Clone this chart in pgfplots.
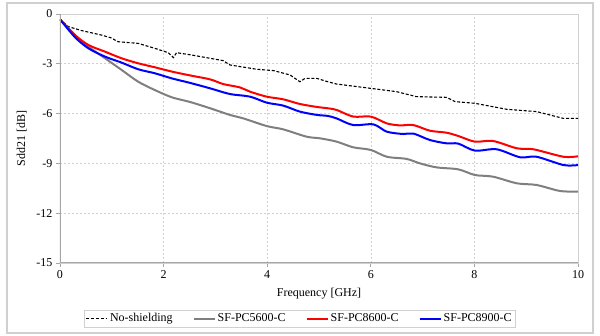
\documentclass[border=0pt]{standalone}
\usepackage{pgfplots}
\pgfplotsset{compat=1.18}
\usepackage{fontspec}
\setmainfont{Liberation Serif}
\definecolor{gridc}{HTML}{D0D0D0}
\definecolor{axc}{HTML}{A6A6A6}
\definecolor{framec}{HTML}{D0D0D0}
\definecolor{grayline}{HTML}{7F7F7F}
\begin{document}
\begin{tikzpicture}[x=1pt,y=1pt]
\path[use as bounding box] (0,0) rectangle (600,336);
\draw[framec, line width=1.2pt] (7,3) rectangle (593,333);
\begin{axis}[
  at={(60pt,73pt)}, anchor=south west,
  scale only axis, width=518pt, height=249pt,
  xmin=0, xmax=10, ymin=-15, ymax=0,
  xtick={0,2,...,10}, ytick={-15,-12,...,0},
  font=\fontsize{12}{14}\selectfont,
  /pgf/number format/assume math mode=true,
  grid=major,
  major grid style={gridc, dashed, dash pattern=on 2pt off 2pt, line width=0.6pt},
  axis line style={gridc, line width=0.8pt},
  tick align=outside, major tick length=4pt,
  xtick pos=bottom, ytick pos=left,
  tick style={axc, line width=0.8pt},
  xlabel={Frequency [GHz]}, ylabel={Sdd21 [dB]},
  xlabel style={yshift=-3pt},
  ylabel style={yshift=3pt},
  legend columns=4,
  legend style={at={(0.463,-0.223)}, anchor=center, draw=gridc, line width=0.8pt,
    font=\fontsize{12}{14}\selectfont, inner sep=1.5pt,
    /tikz/every even column/.append style={column sep=18pt}},
  legend cell align=left,
  legend image code/.code={\draw[#1] (0pt,0pt) -- (21pt,0pt);},
]
\addplot[black, line width=1.1pt, dash pattern=on 3pt off 1.8pt] coordinates {
(0,-0.32) (0.16,-0.76) (0.42,-1.0) (0.8,-1.27) (1.0,-1.45) (1.06,-1.57) (1.12,-1.67)
(1.51,-1.77) (1.83,-2.07) (2.09,-2.33) (2.19,-2.63) (2.25,-2.33) (2.54,-2.47)
(3.15,-2.81) (3.28,-3.07) (3.8,-3.33) (4.12,-3.41) (4.44,-3.67) (4.63,-4.08)
(4.73,-3.88) (4.96,-3.88) (5.17,-4.08) (5.34,-4.22) (6.0,-4.48) (6.5,-4.68)
(6.88,-4.98) (7.46,-5.02) (7.63,-5.28) (8.01,-5.38) (8.62,-5.74) (9.2,-5.88)
(9.72,-6.29) (10,-6.29)};
\addlegendentry{No-shielding}
\addplot[grayline, line width=2pt, smooth, tension=0.5] coordinates {
(0,-0.32) (0.29,-1.27) (0.55,-1.97) (0.87,-2.67) (1.19,-3.37) (1.51,-4.08) (1.83,-4.58)
(2.16,-5.02) (2.51,-5.3) (2.9,-5.68) (3.28,-6.08) (3.54,-6.29) (3.99,-6.75) (4.31,-6.95)
(4.76,-7.39) (5.02,-7.49) (5.34,-7.69) (5.66,-8.03) (6.0,-8.19) (6.31,-8.6) (6.69,-8.73)
(6.95,-9.0) (7.27,-9.24) (7.69,-9.36) (8.01,-9.7) (8.36,-9.8) (8.82,-10.2) (9.2,-10.3)
(9.65,-10.66) (10,-10.7)};
\addlegendentry{SF-PC5600-C}
\addplot[red, line width=2pt, smooth, tension=0.5] coordinates {
(0,-0.32) (0.29,-1.27) (0.55,-1.87) (0.87,-2.27) (1.19,-2.67) (1.51,-2.97) (1.83,-3.21)
(2.16,-3.47) (2.51,-3.7) (2.9,-3.94) (3.15,-4.22) (3.47,-4.42) (3.67,-4.68) (3.99,-4.98)
(4.31,-5.14) (4.63,-5.42) (4.96,-5.6) (5.17,-5.68) (5.34,-5.78) (5.66,-6.18) (6.0,-6.18)
(6.31,-6.59) (6.56,-6.71) (6.82,-6.69) (7.14,-7.03) (7.46,-7.15) (7.69,-7.35) (8.01,-7.69)
(8.36,-7.65) (8.82,-8.09) (9.14,-8.15) (9.72,-8.6) (10,-8.57)};
\addlegendentry{SF-PC8600-C}
\addplot[blue, line width=2pt, smooth, tension=0.5] coordinates {
(0,-0.32) (0.29,-1.4) (0.55,-2.07) (0.87,-2.57) (1.19,-2.93) (1.51,-3.33) (1.83,-3.57)
(2.16,-3.88) (2.51,-4.15) (2.9,-4.48) (3.28,-4.82) (3.67,-4.98) (3.99,-5.34) (4.31,-5.52)
(4.63,-5.88) (4.96,-6.08) (5.17,-6.14) (5.34,-6.29) (5.66,-6.69) (6.05,-6.65) (6.31,-7.09)
(6.63,-7.23) (6.82,-7.2) (7.14,-7.59) (7.46,-7.79) (7.69,-7.81) (8.01,-8.23) (8.43,-8.15)
(8.88,-8.63) (9.2,-8.6) (9.72,-9.1) (10,-9.1)};
\addlegendentry{SF-PC8900-C}
\draw[axc, line width=1.2pt] (rel axis cs:0,1) -- (rel axis cs:0,0) -- (rel axis cs:1,0);
\end{axis}
\end{tikzpicture}
\end{document}
